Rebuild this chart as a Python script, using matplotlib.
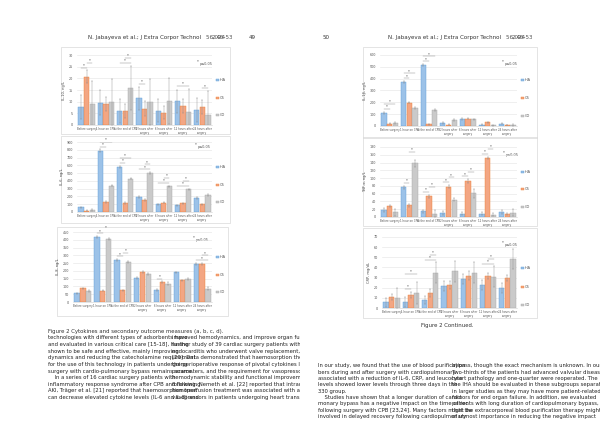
import numpy as np
import matplotlib
matplotlib.use("Agg")
import matplotlib.pyplot as plt
from matplotlib.patches import Rectangle

W, H = 600, 425

groups = ["Before surgery", "1 hour on CPB", "at the end of CPB", "2 hours after\nsurgery",
          "6 hours after\nsurgery", "12 hours after\nsurgery", "24 hours after\nsurgery"]
series = ["IHA", "CS", "CO"]

# chart a: IL-10
il10_iha = [7.8, 9.5, 6.0, 11.5, 6.2, 10.2, 6.4]
il10_cs = [20.7, 9.0, 6.0, 7.0, 5.2, 8.2, 7.8]
il10_co = [8.8, 9.7, 16.0, 9.8, 10.3, 5.6, 4.3]
il10_err = [[5.2, 5.3, 5.2, 5.0, 5.0, 5.0, 5.2], [2.7, 3.2, 3.0, 3.2, 2.8, 3.0, 3.0],
            [10.0, 10.1, 9.5, 10.0, 9.9, 10.0, 10.2]]
# chart b: IL-6
il6_iha = [60, 790, 580, 190, 100, 85, 180]
il6_cs = [15, 130, 115, 155, 120, 110, 100]
il6_co = [25, 340, 430, 500, 330, 290, 220]
il6_err = [[10, 15, 15, 10, 8, 8, 10], [5, 10, 8, 8, 8, 8, 6], [8, 12, 12, 12, 10, 10, 10]]
# chart c: IL-8
il8_iha = [55, 418, 270, 155, 78, 190, 245]
il8_cs = [88, 72, 75, 193, 128, 140, 245]
il8_co = [70, 405, 258, 180, 118, 148, 85]
il8_err = [[5, 5, 5, 5, 5, 5, 5], [4, 4, 4, 5, 5, 4, 5], [8, 8, 8, 8, 8, 6, 10]]
# chart d: IL-1b
il1_iha = [110, 370, 515, 25, 60, 12, 18]
il1_cs = [18, 195, 15, 10, 60, 32, 8]
il1_co = [22, 150, 135, 50, 55, 5, 8]
il1_err = [[8, 8, 8, 8, 6, 4, 4], [5, 4, 3, 3, 5, 5, 3], [8, 8, 8, 8, 8, 5, 5]]
# chart e: TNF-a
tnf_iha = [18, 76, 15, 11, 9, 9, 12]
tnf_cs = [28, 30, 53, 78, 92, 152, 7]
tnf_co = [12, 138, 8, 45, 61, 6, 11]
tnf_err = [[6, 4, 4, 5, 5, 5, 5], [3, 4, 4, 4, 5, 3, 3], [9, 9, 9, 5, 11, 4, 9]]
# chart f: CRP
crp_iha = [5.5, 6.0, 8.0, 22.0, 29.0, 23.0, 20.0]
crp_cs = [11.0, 13.0, 15.0, 23.0, 32.0, 32.0, 30.0]
crp_co = [9.5, 15.0, 35.0, 36.0, 35.0, 31.0, 48.0]
crp_err = [[4.5, 5, 4, 5, 5, 5, 5], [3, 3, 4, 4, 4, 3, 3], [10.5, 11, 10, 10, 10, 10, 10]]

# significant pairs: (group, series a, series b)
sig_a = [(0, 0, 1), (0, 1, 2), (2, 0, 2), (2, 1, 2), (3, 0, 1), (5, 0, 2), (6, 1, 2)]
sig_b = [(1, 0, 1), (1, 0, 2), (2, 0, 1), (2, 0, 2), (3, 0, 2), (3, 1, 2), (4, 0, 2), (4, 1, 2),
         (5, 0, 2), (5, 1, 2)]
sig_c = [(1, 0, 1), (1, 1, 2), (2, 0, 1), (2, 1, 2), (4, 0, 1), (6, 0, 2), (6, 1, 2)]
sig_d = [(0, 0, 1), (0, 0, 2), (1, 0, 1), (1, 0, 2), (2, 0, 1), (2, 0, 2)]
sig_e = [(1, 0, 1), (1, 1, 2), (2, 0, 1), (2, 1, 2), (3, 0, 1), (3, 1, 2), (4, 0, 1), (4, 1, 2),
         (5, 0, 1), (5, 1, 2)]
sig_f = [(1, 0, 1), (1, 0, 2), (2, 0, 2), (2, 1, 2), (5, 0, 2), (5, 1, 2)]

face = ["#9cc2e8", "#f3a683", "#cacaca"]
edge = ["#5b9bd5", "#ed7d31", "#a5a5a5"]

left_lines_a = [
    "technologies with different types of adsorbents have",
    "and evaluated in various critical care [15-18], having",
    "shown to be safe and effective, mainly improving",
    "dynamics and reducing the catecholamine requirement",
    "for the use of this technology in patients undergoing",
    "surgery with cardio-pulmonary bypass remains scarce.",
    "    In a series of 16 cardiac surgery patients with",
    "inflammatory response syndrome after CPB and following",
    "AKI, Träger et al. [21] reported that haemosorption treat",
    "can decrease elevated cytokine levels (IL-6 and IL-8) and",
]
left_lines_b = [
    "improved hemodynamics, and improve organ function. In a",
    "further study of 39 cardiac surgery patients with acute infective",
    "endocarditis who underwent valve replacement, Träger et al.",
    "[20]. Data demonstrated that haemosorption therapy may reduce",
    "the perioperative response of pivotal cytokines level, clinical",
    "parameters, and the requirement for vasopressors, improving",
    "hemodynamic stability and functional improvement of organs",
    "following. Nemeth et al. [22] reported that intraoperative",
    "hemoperfusion treatment was associated with a decrease",
    "vasopressors in patients undergoing heart transplantation",
]
right_lines_a = [
    "In our study, we found that the use of blood purification",
    "bers during and after surgery with cardiopulmonary",
    "associated with a reduction of IL-6, CRP, and leucocyte",
    "levels showed lower levels through three days in the",
    "330 group.",
    "    Studies have shown that a longer duration of cardio",
    "monary bypass has a negative impact on the time of rec",
    "following surgery with CPB [23,24]. Many factors might be",
    "involved in delayed recovery following cardiopulmonary",
]
right_lines_b = [
    "bypass, though the exact mechanism is unknown. In our study",
    "Two-thirds of the patients had advanced valvular disease, one-third",
    "heart pathology and one-quarter were reoperated. The",
    "the IHA should be evaluated in these subgroups separately",
    "in larger studies as they may have more patient-related",
    "factors for end organ failure. In addition, we evaluated",
    "patients with long duration of cardiopulmonary bypass, how",
    "that the extracorporeal blood purification therapy might be",
    "of utmost importance in reducing the negative impact",
]


def px(x0, y0, x1, y1):
    return [x0 / W, 1 - y1 / H, (x1 - x0) / W, (y1 - y0) / H]


fig = plt.figure(figsize=(6, 4.25), dpi=100)
fig.patch.set_facecolor("white")

pages = []
for x0 in (0, 300):
    pg = fig.add_axes(px(x0, 0, x0 + 300, H))
    pg.set_xlim(x0, x0 + 300)
    pg.set_ylim(H, 0)
    pg.axis("off")
    pages.append(pg)
pl, pr = pages

txt = dict(fontsize=4.0, color="#333333", va="center", ha="left")
pl.text(88, 37, "N. Jabayeva et al.; J Extra Corpor Technol", **txt)
pl.text(206, 37, "56, 46-53", fontsize=4.0, color="#333333", va="center", ha="left", alpha=0.85)
pl.text(212, 37, "2024", fontsize=4.0, color="#333333", va="center", ha="left", alpha=0.85)
pl.text(249, 37, "49", **txt)
pr.text(323, 37, "50", **txt)
pr.text(388, 37, "N. Jabayeva et al.; J Extra Corpor Technol", **txt)
pr.text(506, 37, "56, 46-53", fontsize=4.0, color="#333333", va="center", ha="left", alpha=0.85)
pr.text(512, 37, "2024", fontsize=4.0, color="#333333", va="center", ha="left", alpha=0.85)

pl.text(48, 332, "Figure 2 Cytokines and secondary outcome measures (a, b, c, d).",
        fontsize=3.9, color="#333333", va="center", ha="left")
pr.text(447, 326, "Figure 2 Continued.", fontsize=3.9, color="#333333", va="center", ha="center")

body = dict(fontsize=3.8, color="#222222", va="center", ha="left", clip_on=True)
for k, (a, b) in enumerate(zip(left_lines_a, left_lines_b)):
    y = 338 + k * 6.6
    pl.text(48, y, a, **body)
    pl.text(172, y, b, **body)
for k, (a, b) in enumerate(zip(right_lines_a, right_lines_b)):
    y = 366 + k * 6.3
    pr.text(318, y, a, **body)
    pr.text(452, y, b, **body)

charts = [
    # box, plot area, data, err, ylim, step, ylabel, sig, legend x, legend ys, p text pos, page
    ((61, 47, 230, 134), (77, 55, 212, 125), (il10_iha, il10_cs, il10_co), il10_err, 30, 5,
     "IL-10, ng/L", sig_a, 216, (80, 98, 115), (197, 63), pl),
    ((61, 136, 230, 223), (77, 142, 212, 212), (il6_iha, il6_cs, il6_co), il6_err, 900, 100,
     "IL-6, ng/L", sig_b, 216, (167, 185, 202), (195, 146), pl),
    ((57, 227, 228, 316), (73, 232, 212, 302), (il8_iha, il8_cs, il8_co), il8_err, 450, 50,
     "IL-8, ng/L", sig_c, 216, (257, 275, 292), (193, 239), pl),
    ((363, 47, 537, 138), (380, 55, 517, 126), (il1_iha, il1_cs, il1_co), il1_err, 600, 100,
     "IL-1β, ng/L", sig_d, 521, (80, 98, 116), (502, 63), pr),
    ((363, 137, 537, 226), (380, 147, 517, 217), (tnf_iha, tnf_cs, tnf_co), tnf_err, 180, 20,
     "TNF-α, ng/L", sig_e, 521, (172, 189, 207), (503, 154), pr),
    ((363, 228, 537, 318), (382, 237, 517, 308), (crp_iha, crp_cs, crp_co), crp_err, 70, 10,
     "CRP, mg/dL", sig_f, 521, (268, 287, 305), (502, 244), pr),
]

x = np.arange(len(groups))
bw = 0.27
offs = [-0.29, 0.0, 0.29]

for box, area, data, err, ymax, step, ylab, sig, lx, lys, ptxt, pg in charts:
    pg.add_patch(Rectangle((box[0], box[1]), box[2] - box[0], box[3] - box[1],
                           fill=False, ec="#d9d9d9", lw=0.5))
    ax = fig.add_axes(px(*area))
    ax.set_facecolor("none")
    tops = []
    for s in range(3):
        ax.bar(x + offs[s], data[s], bw, color=face[s], edgecolor=edge[s], linewidth=0.3, zorder=2)
        ax.errorbar(x + offs[s], data[s], yerr=err[s], fmt="none", ecolor="#8c8c8c",
                    elinewidth=0.3, capsize=0.6, capthick=0.3, zorder=3)
        tops.append(np.array(data[s]) + np.array(err[s]))
    tops = np.array(tops)
    # significance brackets
    level = {}
    for g, a, b in sig:
        n = level.get(g, 0)
        level[g] = n + 1
        yb = tops[a:b + 1, g].max() + ymax * (0.04 + 0.07 * n)
        ax.plot([g + offs[a], g + offs[b]], [yb, yb], color="#7f7f7f", lw=0.3, zorder=4)
        ax.text((2 * g + offs[a] + offs[b]) / 2, yb + ymax * 0.005, "*", fontsize=2.8,
                ha="center", va="bottom", color="#333333")
    ax.set_ylim(0, ymax)
    ax.set_xlim(-0.5, len(groups) - 0.5)
    ax.set_yticks(np.arange(0, ymax + step / 2, step))
    ax.yaxis.grid(True, color="#e3e3e3", lw=0.4, zorder=0)
    ax.set_axisbelow(True)
    ax.set_xticks(x)
    ax.set_xticklabels(groups, fontsize=1.9, color="#555555", linespacing=1.0)
    ax.tick_params(axis="y", labelsize=2.4, colors="#555555", length=0, pad=3)
    ax.tick_params(axis="x", length=0, pad=1.2)
    for sp in ("top", "right", "left"):
        ax.spines[sp].set_visible(False)
    ax.spines["bottom"].set_color("#d0d0d0")
    ax.spines["bottom"].set_linewidth(0.4)
    ax.set_ylabel(ylab, fontsize=2.6, color="#444444", labelpad=2)
    # legend
    for s in range(3):
        pg.add_patch(Rectangle((lx, lys[s] - 1.4), 2.8, 2.8, fc=face[s], ec=edge[s], lw=0.3))
        pg.text(lx + 4, lys[s], series[s], fontsize=2.5, color="#555555", va="center")
    pg.text(ptxt[0], ptxt[1] - 1.5, "*", fontsize=2.8, color="#333333", va="center")
    pg.text(ptxt[0] + 3, ptxt[1] + 1, "p≤0,05", fontsize=2.5, color="#555555", va="center")

fig.savefig("out.png", dpi=100, facecolor="white")
